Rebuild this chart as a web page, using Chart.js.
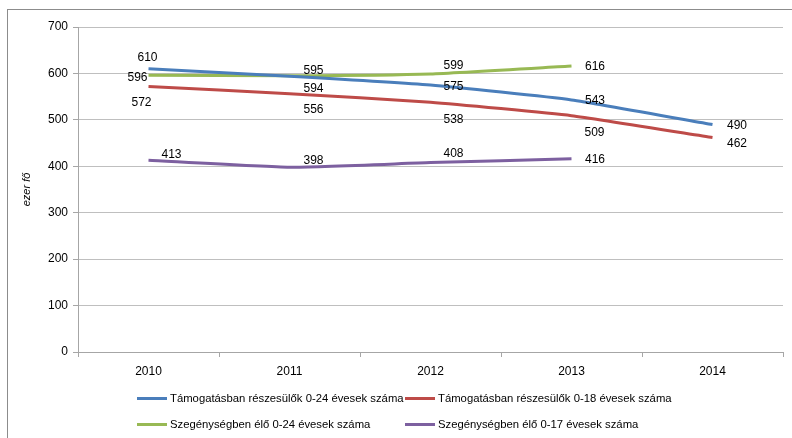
<!DOCTYPE html>
<html>
<head>
<meta charset="utf-8">
<script src="https://cdn.jsdelivr.net/npm/chart.js@4.4.0/dist/chart.umd.min.js"></script>
<style>
  body { margin: 0; background: #fff; }
  #wrap { position: relative; width: 792px; height: 438px; overflow: hidden; }
  #frame { position: absolute; left: 7px; top: 9px; width: 800px; height: 440px; border: 1px solid #8c8c8c; box-sizing: border-box; }
  canvas { position: absolute; left: 0; top: 0; }
  .leg { position: absolute; font-family: "Liberation Sans", Arial, sans-serif; font-size: 11.3px; color: #000; white-space: nowrap; line-height: 16px; }
  .leg i { display: inline-block; width: 30px; height: 3px; vertical-align: middle; margin-right: 3px; position: relative; top: -1px; }
</style>
</head>
<body>
<div id="wrap">
  <div id="frame"></div>
  <canvas id="myChart" width="792" height="438"></canvas>
  <div id="legend"></div>
</div>
<script>
const years = ["2010", "2011", "2012", "2013", "2014"];
const seriesNames = [
  "Támogatásban részesülők 0-24 évesek száma",
  "Támogatásban részesülők 0-18 évesek száma",
  "Szegénységben élő 0-24 évesek száma",
  "Szegénységben élő 0-17 évesek száma",
];
const tamogatas024 = [610, 594, 575, 543, 490];
const tamogatas018 = [572, 556, 538, 509, 462];
const szegeny024 = [596, 595, 599, 616];
const szegeny017 = [413, 398, 408, 416];
const yTicks = [0, 100, 200, 300, 400, 500, 600, 700];

const colors = ["#4a7ebb", "#be4b48", "#98b954", "#7d60a0"];
const font = "'Liberation Sans', Arial, sans-serif";

// label offsets from each point (Excel put them by hand)
const labelOffsets = [
  [[-1, -11], [24, 12], [23, 2], [23.5, 1], [24.5, 1.5]],
  [[-7, 16], [24, 15.5], [23, 17], [23, 17.5], [24.5, 6.5]],
  [[-11, 2], [24, -5], [23, -8], [23.5, 1]],
  [[23, -6], [24, -7], [23, -9], [23.5, 1]],
];

const valueLabels = {
  id: "valueLabels",
  afterDatasetsDraw(chart) {
    const ctx = chart.ctx;
    ctx.save();
    ctx.font = "12px " + font;
    ctx.fillStyle = "#000";
    ctx.textAlign = "center";
    ctx.textBaseline = "middle";
    chart.data.datasets.forEach((ds, i) => {
      const meta = chart.getDatasetMeta(i);
      meta.data.forEach((pt, j) => {
        const off = labelOffsets[i][j];
        ctx.fillText(String(ds.data[j]), pt.x + off[0], pt.y + off[1]);
      });
    });
    ctx.restore();
  },
};

const allSeries = [tamogatas024, tamogatas018, szegeny024, szegeny017];

const ctx = document.getElementById("myChart").getContext("2d");

new Chart(ctx, {
  type: "line",
  data: {
    labels: years,
    datasets: allSeries.map((d, i) => ({
      label: seriesNames[i],
      data: d,
      borderColor: colors[i],
      backgroundColor: colors[i],
      borderWidth: 3,
      pointRadius: 0,
      tension: 0.15,
    })),
  },
  options: {
    responsive: false,
    animation: false,
    layout: { padding: { top: 27, right: 9, bottom: 0, left: 0 } },
    plugins: { legend: { display: false }, tooltip: { enabled: false } },
    scales: {
      x: {
        offset: true,
        afterFit: (s) => { s.height = 86; },
        grid: { offset: true, drawOnChartArea: false, color: "#a6a6a6", tickLength: 5 },
        border: { color: "#a6a6a6" },
        ticks: { color: "#000", font: { family: font, size: 12 }, padding: 7 },
      },
      y: {
        min: 0,
        max: 700,
        afterFit: (s) => { s.width = 78; },
        afterBuildTicks: (s) => { s.ticks = yTicks.map((v) => ({ value: v })); },
        grid: { color: "#bfbfbf", tickLength: 5, tickColor: "#a6a6a6" },
        border: { color: "#a6a6a6" },
        ticks: { color: "#000", font: { family: font, size: 12 }, padding: 5 },
        title: {
          display: true,
          text: "ezer fő",
          color: "#000",
          font: { family: font, size: 11, style: "italic" },
          padding: { top: 20, bottom: 0 },
        },
      },
    },
  },
  plugins: [valueLabels],
});

// legend, two columns like the Excel one
const legendPos = [
  [137, 398], [405, 398], [137, 424], [405, 424],
];
const legendEl = document.getElementById("legend");
seriesNames.forEach((name, i) => {
  const markup = `<div class="leg" style="left:${legendPos[i][0]}px;top:${legendPos[i][1] - 8}px"><i style="background:${colors[i]}"></i>${name}</div>`;
  legendEl.insertAdjacentHTML("beforeend", markup);
});
</script>
</body>
</html>
